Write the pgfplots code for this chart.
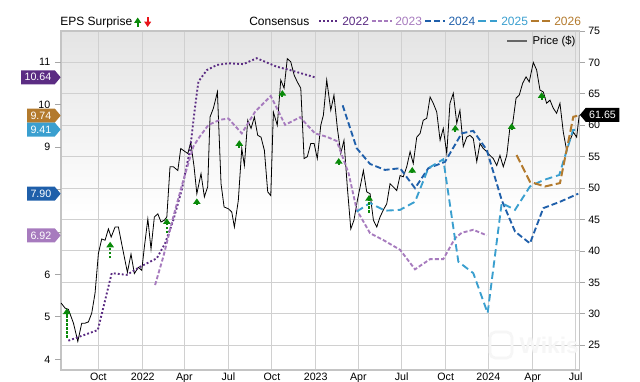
\documentclass[border=0pt]{standalone}
\usepackage{pgfplots}
\pgfplotsset{compat=1.18}
\usepackage{fontspec}
\setmainfont{Liberation Sans}
\usetikzlibrary{arrows.meta,shapes.symbols}
\definecolor{c22}{HTML}{5B2C83}
\definecolor{c23}{HTML}{A77BBE}
\definecolor{c24}{HTML}{1F5FAA}
\definecolor{c25}{HTML}{3A9FCF}
\definecolor{c26}{HTML}{B37A2D}
\definecolor{gridc}{HTML}{D0D0D0}
\definecolor{framec}{HTML}{C4C4C4}
\definecolor{upc}{HTML}{0A8A0A}
\definecolor{downc}{HTML}{E8141A}
\definecolor{bgtop}{HTML}{E4E4E4}
\pgfdeclareverticalshading{plotbg}{100bp}{color(0bp)=(white); color(25bp)=(white); color(48bp)=(white); color(75bp)=(bgtop); color(100bp)=(bgtop)}

\pgfplotstableread{
x y
-5.48 31.7
-5.21 30.9
-4.98 30.7
-4.63 28.5
-4.33 25.6
-4.06 28.5
-3.83 28.5
-3.60 28.7
-3.37 30.1
-3.14 33.3
-2.91 39.6
-2.68 41.9
-2.45 41.7
-2.22 43.5
-2.03 42.2
-1.76 43.8
-1.53 43.8
-1.30 41.1
-0.91 36.6
-0.66 39.5
-0.43 36.4
-0.15 37.4
0.08 36.9
0.26 40.6
0.50 45.1
0.72 40.3
0.95 45.4
1.19 45.9
1.41 44.6
1.64 44.9
1.81 45.4
2.03 53.4
2.26 53.4
2.57 52.8
2.77 56.3
3.07 55.8
3.26 55.5
3.46 57.3
3.69 53.4
3.88 49.1
4.17 52.3
4.40 48.6
4.63 50.2
4.79 61.3
5.02 62.7
5.30 65.3
5.55 50.7
5.76 47.0
6.06 46.7
6.29 46.2
6.47 43.8
6.74 48.0
6.98 56.3
7.16 53.6
7.39 60.8
7.62 59.5
7.85 61.3
8.08 58.4
8.31 58.1
8.54 56.0
8.77 49.4
8.98 48.8
9.16 62.1
9.43 60.0
9.67 67.2
9.90 65.9
10.12 70.6
10.36 70.1
10.59 68.0
10.81 66.9
11.05 65.9
11.28 54.7
11.50 55.0
11.74 57.1
11.97 57.1
12.19 54.7
12.43 60.0
12.61 61.6
12.84 67.2
13.12 62.4
13.34 64.8
13.57 59.6
13.81 55.5
14.03 57.6
14.26 50.2
14.50 43.5
14.72 44.9
14.95 48.0
15.19 50.7
15.37 52.8
15.60 49.4
15.83 49.1
16.06 44.9
16.29 43.8
16.52 45.4
16.74 46.5
16.98 47.5
17.21 50.7
17.43 50.2
17.67 49.6
17.90 52.0
18.12 51.8
18.36 53.4
18.59 55.8
18.81 53.9
19.05 58.1
19.28 58.7
19.50 60.8
19.74 61.1
19.97 64.5
20.19 63.5
20.43 62.1
20.66 57.6
20.88 59.5
21.12 55.5
21.34 63.5
21.57 65.1
21.81 60.3
22.03 62.4
22.26 56.6
22.50 58.1
22.72 58.4
22.95 57.9
23.19 54.2
23.41 57.1
23.64 56.3
23.88 55.8
24.10 55.2
24.33 54.7
24.57 53.6
24.79 55.2
25.02 53.4
25.26 55.2
25.48 59.7
25.67 60.3
25.90 64.3
26.12 64.8
26.36 66.7
26.59 67.7
26.81 66.9
27.09 70.0
27.32 68.8
27.55 65.6
27.78 65.3
28.01 63.5
28.24 64.0
28.47 62.7
28.70 61.9
28.93 63.5
29.16 58.9
29.39 56.0
29.62 57.6
29.85 58.9
30.08 58.1
30.26 61.65
}\price

\pgfplotstableread{
x y
-4.98 4.44
-2.95 4.69
-1.99 6.03
-0.95 5.99
-0.03 6.18
1.12 6.38
1.69 6.73
2.26 7.28
2.84 7.99
3.41 8.93
3.76 9.95
3.99 10.54
4.57 10.81
5.26 10.93
6.06 10.97
7.09 10.95
8.01 11.09
9.39 10.89
10.31 10.81
12.03 10.64
}\eA

\pgfplotstableread{
x y
1.00 5.75
1.57 6.42
2.26 7.36
2.95 8.22
3.64 9.01
3.99 9.20
4.68 9.52
5.48 9.64
6.06 9.67
6.98 9.32
7.90 9.83
8.98 10.20
9.97 9.52
11.00 9.70
12.03 9.32
12.84 9.24
13.53 9.14
14.35 8.38
14.91 7.52
15.83 6.97
16.74 6.81
17.90 6.58
18.93 6.12
19.97 6.36
20.88 6.36
21.69 6.85
22.15 6.98
22.95 7.05
23.88 6.92
}\eB

\pgfplotstableread{
x y
13.94 9.98
14.91 8.97
15.83 8.60
16.86 8.46
17.90 8.50
18.93 8.03
19.85 8.50
21.00 8.65
22.15 9.32
22.95 9.38
23.88 8.93
24.91 7.75
25.83 7.01
26.86 6.73
27.78 7.56
28.93 7.71
30.19 7.90
}\eC

\pgfplotstableread{
x y
14.91 7.48
15.83 7.68
16.86 7.50
17.90 7.52
18.93 7.71
19.85 8.50
20.88 8.71
21.92 6.30
22.95 6.03
23.94 5.09
24.91 7.68
25.83 7.52
26.86 8.07
27.78 8.22
28.88 8.34
29.83 9.40
30.19 9.41
}\eD

\pgfplotstableread{
x y
25.94 8.81
26.86 8.18
27.90 8.07
28.93 8.15
29.85 9.71
30.19 9.74
}\eE

\pgfplotstableread{
x y dv
-5.09 4.51 0.69
-2.10 6.38 0.39
1.81 6.97 0.35
3.88 7.64 0.15
6.81 8.98 0.18
9.78 10.18 0.16
13.67 8.58 0.16
15.76 7.45 0.42
18.74 8.39 0.14
21.71 9.35 0.17
25.60 9.40 0.16
27.67 10.11 0.18
}\surp

\begin{document}
\begin{tikzpicture}[x=0.75pt,y=0.75pt]
\useasboundingbox (0,0) rectangle (640,382);
\pgfplotsset{base/.style={scale only axis, width=388.9pt, height=254.25pt,
  at={(45.75pt,9pt)}, anchor=south west, xmin=-5.49, xmax=30.28,
  ticklabel style={font=\fontsize{8}{9}\selectfont},
  /pgf/number format/assume math mode=true}}

% price axis (right)
\begin{axis}[base, ymin=21.05, ymax=75,
  axis background/.style={shading=plotbg},
  axis line style={draw=framec, line width=0.8pt},
  ytick={25,30,...,75}, ytick pos=right, yticklabel pos=right,
  xtick={-2.91,0.15,3.02,6.06,9.06,12.08,15.02,18.01,21.05,23.99,27.05,30.01},
  xticklabels={Oct,2022,Apr,Jul,Oct,2023,Apr,Jul,Oct,2024,Apr,Jul},
  xtick pos=bottom, major x tick style={draw=none},
  xticklabel style={inner sep=0pt, yshift=2.2pt},
  grid=major, major grid style={draw=gridc, line width=0.75pt},
  tick align=outside, major tick length=4pt,
  major y tick style={draw=gray!70, line width=0.6pt},
  yticklabel style={xshift=-1pt}]
\draw[framec, line width=1.6pt] (rel axis cs:0,1) -- (rel axis cs:1,1);
\addplot[black, line width=0.6pt] table[x=x,y=y] {\price};
\coordinate (tp) at (axis cs:30.28,61.65);
\end{axis}

% EPS axis (left)
\begin{axis}[base, ymin=3.75, ymax=11.73,
  hide x axis, axis y line*=left, y axis line style={draw=none},
  ytick={4,...,11}, yticklabels={4,5,6,,,9,10,11},
  tick align=outside, major tick length=4.5pt,
  major y tick style={draw=gray!70, line width=0.6pt}]
\addplot[c22, line width=1.4pt, dash pattern=on 1.4pt off 1.6pt] table[x=x,y=y] {\eA};
\addplot[c23, line width=1.4pt, dash pattern=on 3pt off 1.6pt] table[x=x,y=y] {\eB};
\addplot[c24, line width=1.4pt, dash pattern=on 4.5pt off 2.2pt] table[x=x,y=y] {\eC};
\addplot[c25, line width=1.4pt, dash pattern=on 5.5pt off 3pt] table[x=x,y=y] {\eD};
\addplot[c26, line width=1.5pt, dash pattern=on 6pt off 2.5pt] table[x=x,y=y] {\eE};
\addplot[upc, line width=1.3pt, dash pattern=on 2pt off 1pt,
  quiver={u=0, v=\thisrow{dv}}, -{Triangle[width=5.5pt,length=4.2pt]}]
  table[x=x,y=y] {\surp};
\coordinate (t22) at (axis cs:-5.49,10.64);
\coordinate (t26) at (axis cs:-5.49,9.74);
\coordinate (t25) at (axis cs:-5.49,9.41);
\coordinate (t24) at (axis cs:-5.49,7.90);
\coordinate (t23) at (axis cs:-5.49,6.92);
\end{axis}

\tikzset{tag/.style={signal, signal to=east, signal pointer angle=100, text=white,
  inner xsep=2.6pt, inner ysep=0pt, minimum height=10.5pt,
  font=\fontsize{8}{9}\selectfont, anchor=east}}
\node[tag, fill=c22] at (t22) {10.64};
\node[tag, fill=c26] at (t26) {9.74};
\node[tag, fill=c25] at (t25) {9.41};
\node[tag, fill=c24] at (t24) {7.90};
\node[tag, fill=c23] at (t23) {6.92};
\node[tag, signal to=west, fill=black, anchor=west] at (tp) {61.65};

% watermark
\node[text=gray!7, font=\bfseries\fontsize{17}{17}\selectfont, anchor=west] at (515,37) {Wikis};
\draw[gray!7, line width=2pt, rounded corners=4pt] (490,24) rectangle (512,50);

% legend top
\node[anchor=west, inner sep=0, font=\fontsize{9}{10}\selectfont] at (60,360) {EPS Surprise};
\draw[-{Triangle[width=5pt,length=4pt]}, upc, line width=1.4pt] (137.7,355) -- (137.7,364.5);
\draw[-{Triangle[width=5pt,length=4pt]}, downc, line width=1.4pt] (147.7,364.5) -- (147.7,355);
\node[anchor=west, inner sep=0, font=\fontsize{9}{10}\selectfont] at (249,361) {Consensus};
\draw[c22, line width=1.4pt, dash pattern=on 1.4pt off 1.6pt] (319.3,361) -- (336.7,361);
\node[anchor=west, inner sep=0, text=c22, font=\fontsize{9}{10}\selectfont] at (342,361) {2022};
\draw[c23, line width=1.4pt, dash pattern=on 3pt off 1.6pt] (371.7,361) -- (392.3,361);
\node[anchor=west, inner sep=0, text=c23, font=\fontsize{9}{10}\selectfont] at (395,361) {2023};
\draw[c24, line width=1.4pt, dash pattern=on 4.5pt off 2.2pt] (425,361) -- (445,361);
\node[anchor=west, inner sep=0, text=c24, font=\fontsize{9}{10}\selectfont] at (448.3,361) {2024};
\draw[c25, line width=1.4pt, dash pattern=on 5.5pt off 3pt] (478.3,361) -- (496.7,361);
\node[anchor=west, inner sep=0, text=c25, font=\fontsize{9}{10}\selectfont] at (501,361) {2025};
\draw[c26, line width=1.5pt, dash pattern=on 6pt off 2.5pt] (530.7,361) -- (550.7,361);
\node[anchor=west, inner sep=0, text=c26, font=\fontsize{9}{10}\selectfont] at (554,361) {2026};
\draw[black!60, line width=1.6pt] (507.3,341) -- (526.7,341);
\node[anchor=west, inner sep=0, font=\fontsize{8.5}{10}\selectfont] at (532.3,340.5) {Price (\$)};
\end{tikzpicture}
\end{document}
